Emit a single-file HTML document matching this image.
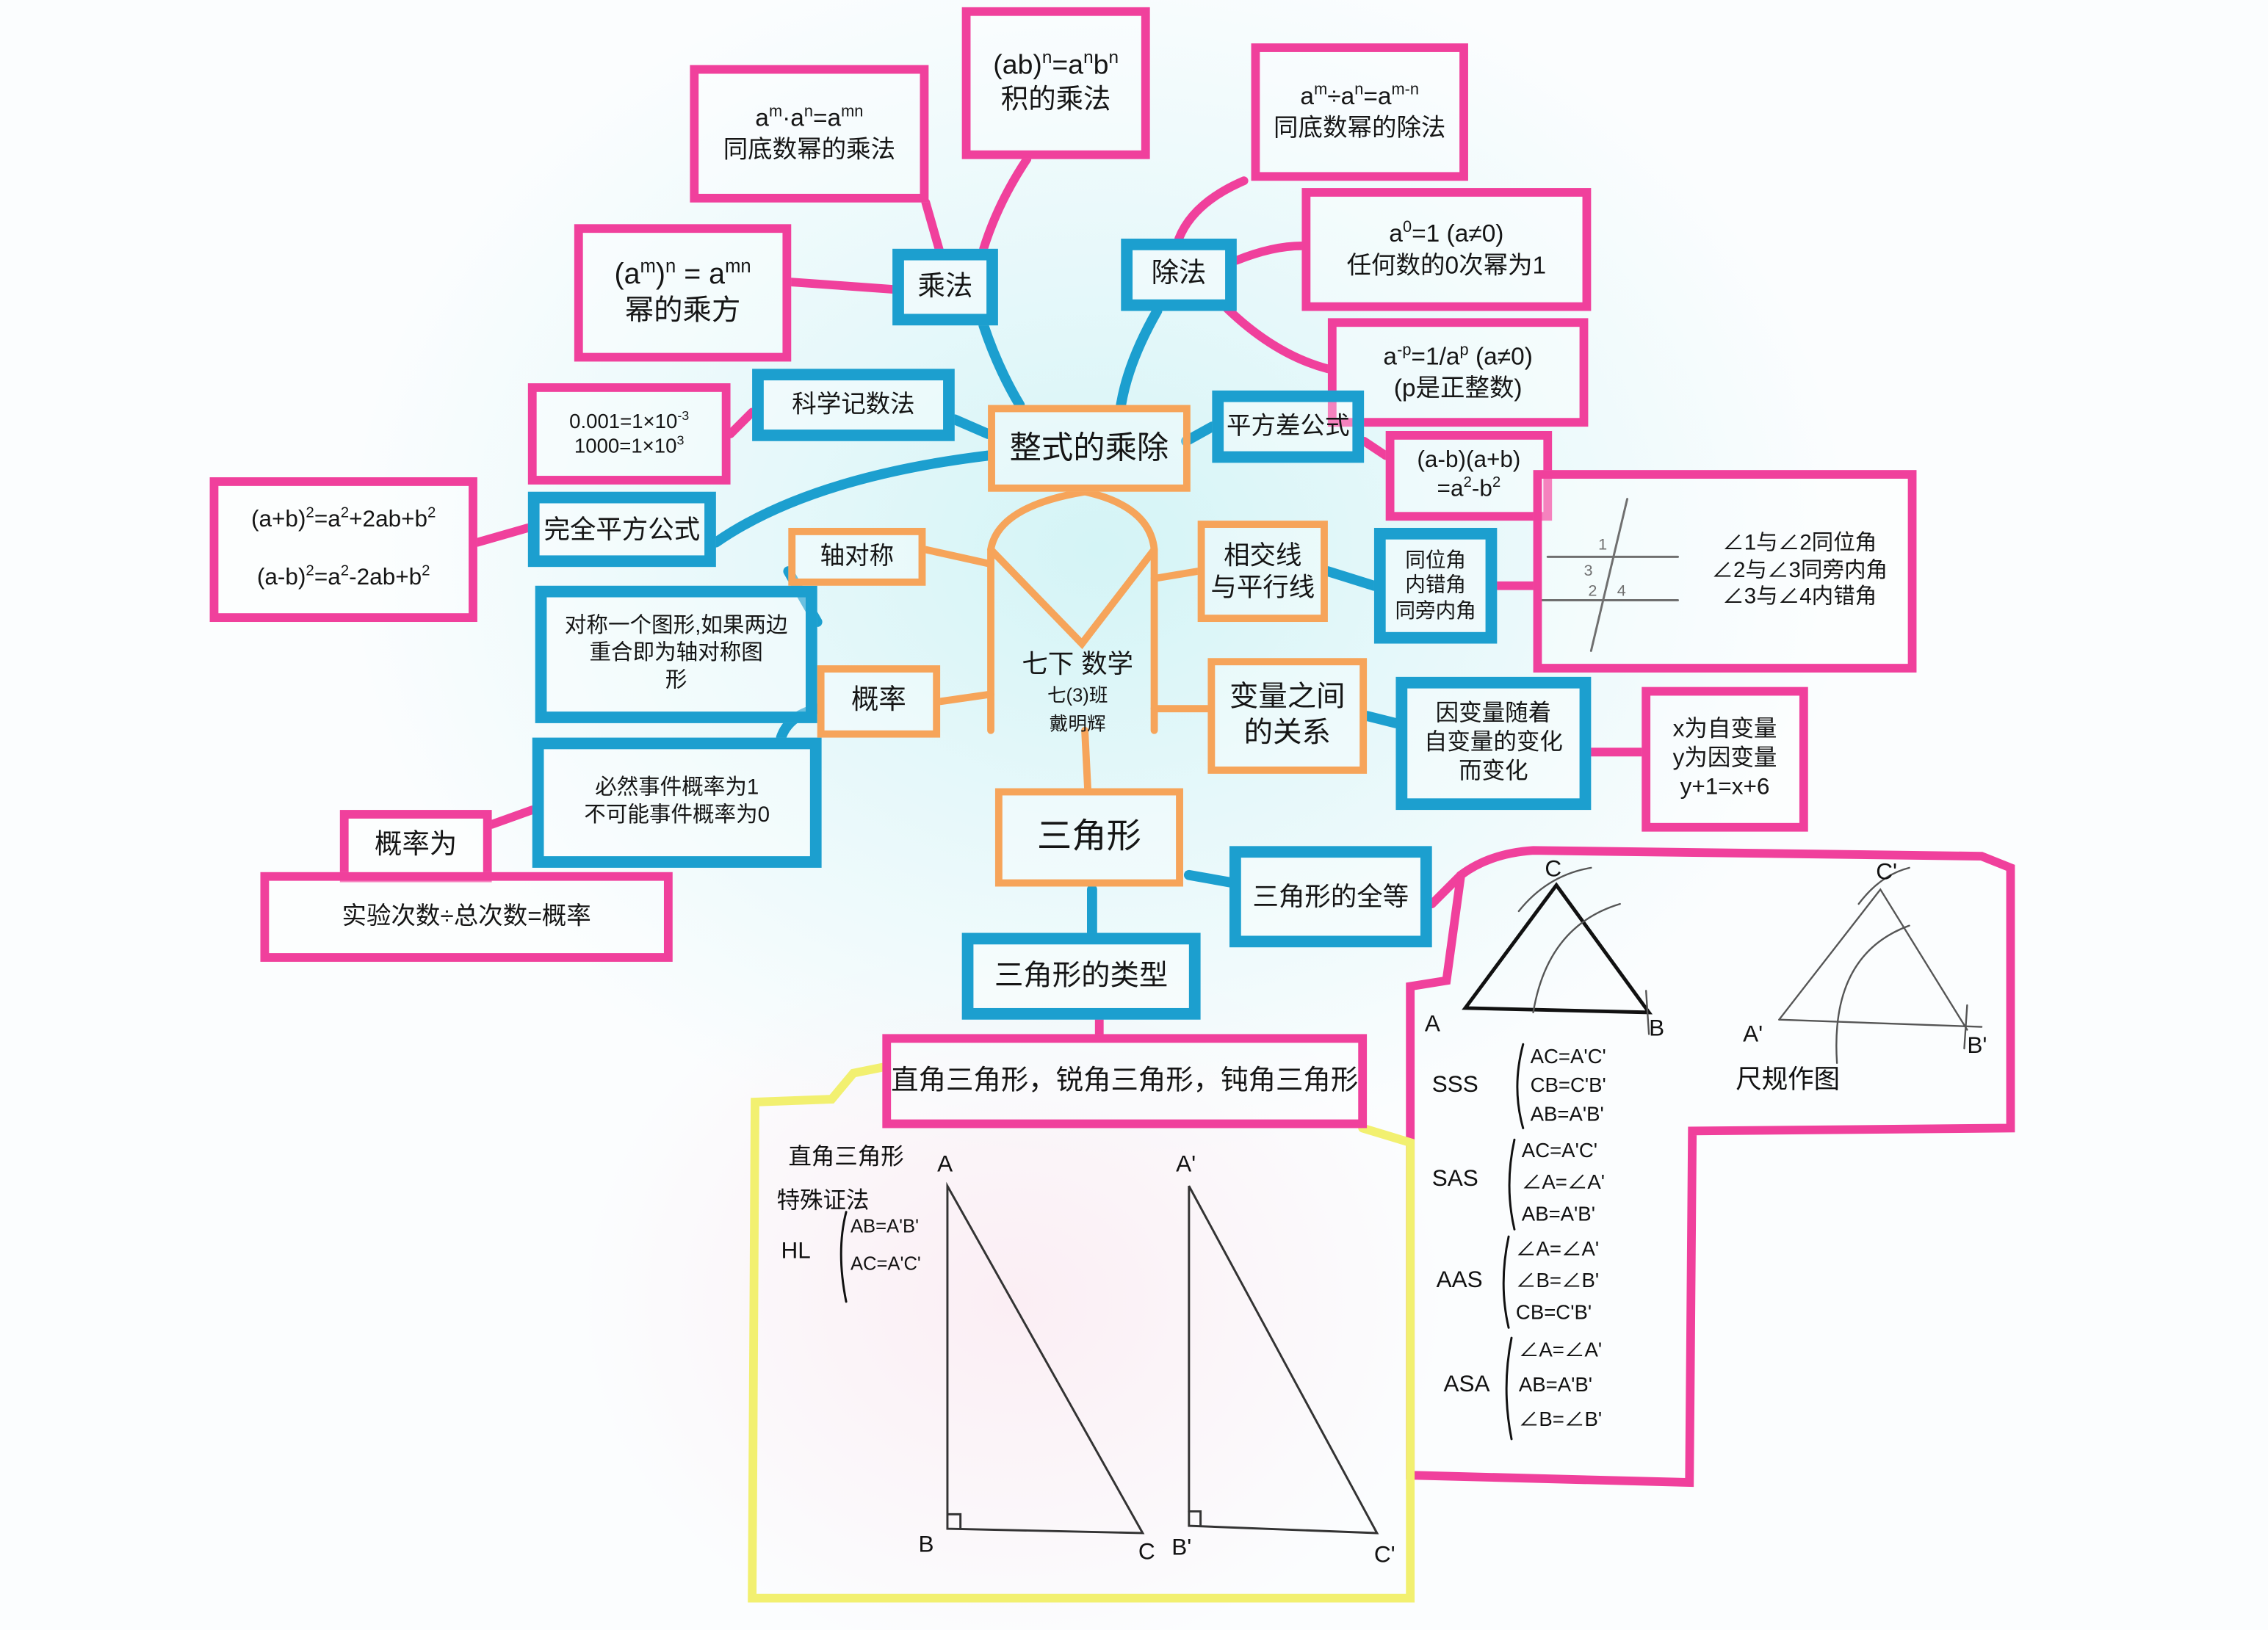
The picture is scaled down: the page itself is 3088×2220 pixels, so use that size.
<!DOCTYPE html>
<html><head><meta charset="utf-8"><style>
html,body{margin:0;padding:0;width:3088px;height:2220px;overflow:hidden;background:#fbfdff}
#s{position:absolute;left:0;top:0;width:1568px;height:1127px;transform:scale(1.9694,1.9698);transform-origin:0 0;
background:radial-gradient(ellipse 520px 420px at 760px 380px,#d4f4f6 0%,#e6f8fa 45%,rgba(250,253,255,0) 100%),radial-gradient(ellipse 300px 250px at 700px 900px,#fbeef4 0%,rgba(255,255,255,0) 100%),#fbfdfe;
font-family:"Liberation Sans","Noto Sans CJK SC",sans-serif;color:#151515}
.b{position:absolute;box-sizing:border-box;display:flex;align-items:center;justify-content:center;text-align:center;line-height:1.25;background:rgba(255,255,255,.35)}
.b>div{display:block}
sup{font-size:65%;line-height:0}
.p{border:6px solid #f0409c}
.u{border:8px solid #1c9fcf}
.o{border:5px solid #f6a45a}
svg{position:absolute;left:0;top:0}
</style></head><body><div id="s">
<svg width="1568" height="1127" viewBox="0 0 1568 1127" fill="none" stroke-linecap="round">
<g stroke="#f0409c" stroke-width="6">
<path d="M640,140 L650,175"/><path d="M710,110 Q690,140 680,172"/>
<path d="M860,125 Q825,140 815,165"/><path d="M855,180 Q880,170 900,170"/>
<path d="M845,210 Q880,245 918,255"/><path d="M547,195 L617,200"/>
<path d="M505,300 L520,285"/><path d="M330,375 L365,365"/>
<path d="M943,305 L958,315"/><path d="M1035,405 L1060,405"/>
<path d="M1100,520 L1135,520"/><path d="M340,570 L368,560"/>
<path d="M990,625 L1010,605"/><path d="M760,705 L760,715"/>
</g>
<g stroke="#1c9fcf" stroke-width="7">
<path d="M680,225 Q690,255 705,280"/><path d="M800,215 Q780,250 775,280"/>
<path d="M660,290 L683,300"/><path d="M820,305 L838,295"/>
<path d="M495,375 Q560,330 683,315"/><path d="M565,430 L545,395"/>
<path d="M918,395 L950,405"/><path d="M945,495 L965,500"/>
<path d="M565,490 Q545,495 540,510"/><path d="M822,605 L850,610"/>
<path d="M755,615 L755,645"/>
</g>
<g stroke="#f6a45a" stroke-width="5">
<path d="M750,340 Q690,350 685,380 L685,505"/><path d="M750,340 Q795,350 798,380 L798,505"/>
<path d="M685,380 L748,445 L798,380"/>
<path d="M640,380 L685,390"/><path d="M650,485 L685,480"/>
<path d="M798,400 L828,395"/><path d="M798,490 L835,490"/>
<path d="M750,505 L752,545"/>
</g>
<path d="M1010,605 Q1030,590 1060,588 L1370,592 L1390,600 L1390,780 L1170,782 L1168,1025 L975,1020 L975,682 L1000,678 Z" stroke="#f0409c" stroke-width="6"/>
<path d="M610,738 L590,742 L575,760 L522,762 L520,1105 L975,1105 L975,790 L942,780" stroke="#f2f070" stroke-width="6"/>
<g stroke="#222" stroke-width="1.5">
<path d="M1070,385 L1160,385"/><path d="M1065,415 L1160,415"/><path d="M1125,345 L1100,450"/>
</g>
<g font-size="11" fill="#222" stroke="none"><text x="1105" y="380">1</text><text x="1095" y="398">3</text><text x="1098" y="412">2</text><text x="1118" y="412">4</text></g>
<g stroke="#111" stroke-width="2.5"><path d="M1013,697 L1076,612 L1140,700 Z"/></g>
<g stroke="#555" stroke-width="1.2">
<path d="M1230,705 L1300,615 L1360,712"/><path d="M1230,705 L1370,710"/>
<path d="M1060,700 Q1070,640 1120,625"/><path d="M1050,630 Q1070,605 1100,600"/>
<path d="M1270,735 Q1265,660 1320,640"/><path d="M1285,625 Q1300,605 1320,600"/>
<path d="M1138,685 L1140,715"/><path d="M1360,695 L1358,725"/>
</g>
<g stroke="#333" stroke-width="1.5">
<path d="M655,820 L655,1057 L790,1060 Z"/><path d="M822,820 L822,1055 L952,1060 Z"/>
<path d="M655,1047 L664,1047 L664,1057"/><path d="M822,1045 L830,1045 L830,1055"/>
</g>
<g font-size="16" fill="#111" stroke="none">
<text x="1068" y="606">C</text><text x="985" y="713">A</text><text x="1140" y="716">B</text>
<text x="1297" y="608">C'</text><text x="1205" y="720">A'</text><text x="1360" y="728">B'</text>
<text x="648" y="810">A</text><text x="635" y="1073">B</text><text x="787" y="1078">C</text>
<text x="813" y="810">A'</text><text x="810" y="1075">B'</text><text x="950" y="1080">C'</text>
</g>
<g font-size="16" fill="#111" stroke="none" font-family="Liberation Sans,Noto Sans CJK SC,sans-serif">
<text x="990" y="755">SSS</text><text x="1058" y="735" font-size="14">AC=A'C'</text><text x="1058" y="755" font-size="14">CB=C'B'</text><text x="1058" y="775" font-size="14">AB=A'B'</text>
<text x="990" y="820">SAS</text><text x="1052" y="800" font-size="14">AC=A'C'</text><text x="1052" y="822" font-size="14">∠A=∠A'</text><text x="1052" y="844" font-size="14">AB=A'B'</text>
<text x="993" y="890">AAS</text><text x="1048" y="868" font-size="14">∠A=∠A'</text><text x="1048" y="890" font-size="14">∠B=∠B'</text><text x="1048" y="912" font-size="14">CB=C'B'</text>
<text x="998" y="962">ASA</text><text x="1050" y="938" font-size="14">∠A=∠A'</text><text x="1050" y="962" font-size="14">AB=A'B'</text><text x="1050" y="986" font-size="14">∠B=∠B'</text>
<text x="1200" y="752" font-size="18">尺规作图</text>
<text x="545" y="805" font-size="16">直角三角形</text><text x="537" y="835" font-size="16">特殊证法</text>
<text x="540" y="870">HL</text><text x="588" y="852" font-size="13">AB=A'B'</text><text x="588" y="878" font-size="13">AC=A'C'</text>
</g>
<g stroke="#111" stroke-width="1.5"><path d="M1053,722 Q1045,752 1053,780"/><path d="M1047,788 Q1040,820 1047,850"/><path d="M1043,855 Q1036,888 1043,918"/><path d="M1045,925 Q1038,960 1045,995"/><path d="M585,838 Q578,865 585,900"/></g>
</svg>

<div class="b p" style="left:477px;top:45px;width:165px;height:95px;font-size:17px"><div>a<sup>m</sup>·a<sup>n</sup>=a<sup>mn</sup><br>同底数幂的乘法</div></div>
<div class="b p" style="left:665px;top:5px;width:130px;height:105px;font-size:19px"><div>(ab)<sup>n</sup>=a<sup>n</sup>b<sup>n</sup><br>积的乘法</div></div>
<div class="b p" style="left:865px;top:30px;width:150px;height:95px;font-size:17px"><div>a<sup>m</sup>÷a<sup>n</sup>=a<sup>m-n</sup><br>同底数幂的除法</div></div>
<div class="b p" style="left:900px;top:130px;width:200px;height:85px;font-size:17px"><div>a<sup>0</sup>=1 (a≠0)<br>任何数的0次幂为1</div></div>
<div class="b p" style="left:918px;top:220px;width:180px;height:75px;font-size:17px"><div>a<sup>-p</sup>=1/a<sup>p</sup> (a≠0)<br>(p是正整数)</div></div>
<div class="b p" style="left:397px;top:155px;width:150px;height:95px;font-size:20px"><div>(a<sup>m</sup>)<sup>n</sup> = a<sup>mn</sup><br>幂的乘方</div></div>
<div class="b p" style="left:365px;top:265px;width:140px;height:70px;font-size:14px"><div>0.001=1×10<sup>-3</sup><br>1000=1×10<sup>3</sup></div></div>
<div class="b p" style="left:145px;top:330px;width:185px;height:100px;font-size:16px"><div>(a+b)<sup>2</sup>=a<sup>2</sup>+2ab+b<sup>2</sup><br><br>(a-b)<sup>2</sup>=a<sup>2</sup>-2ab+b<sup>2</sup></div></div>
<div class="b p" style="left:958px;top:298px;width:115px;height:62px;font-size:16px"><div>(a-b)(a+b)<br>=a<sup>2</sup>-b<sup>2</sup></div></div>
<div class="b p" style="left:1060px;top:325px;width:265px;height:140px;font-size:15px;justify-content:flex-end;padding-right:14px"><div>∠1与∠2同位角<br>∠2与∠3同旁内角<br>∠3与∠4内错角</div></div>
<div class="b p" style="left:1135px;top:475px;width:115px;height:100px;font-size:16px"><div>x为自变量<br>y为因变量<br>y+1=x+6</div></div>
<div class="b p" style="left:235px;top:560px;width:105px;height:50px;font-size:19px"><div>概率为</div></div>
<div class="b p" style="left:180px;top:603px;width:285px;height:62px;font-size:17px"><div>实验次数÷总次数=概率</div></div>
<div class="b p" style="left:610px;top:715px;width:335px;height:65px;font-size:19px"><div>直角三角形，锐角三角形，钝角三角形</div></div>

<div class="b u" style="left:617px;top:172px;width:73px;height:53px;font-size:19px"><div>乘法</div></div>
<div class="b u" style="left:775px;top:165px;width:80px;height:50px;font-size:19px"><div>除法</div></div>
<div class="b u" style="left:520px;top:255px;width:140px;height:50px;font-size:17px"><div>科学记数法</div></div>
<div class="b u" style="left:838px;top:270px;width:105px;height:50px;font-size:17px"><div>平方差公式</div></div>
<div class="b u" style="left:365px;top:340px;width:130px;height:52px;font-size:18px"><div>完全平方公式</div></div>
<div class="b u" style="left:370px;top:405px;width:195px;height:95px;font-size:15px"><div>对称一个图形,如果两边<br>重合即为轴对称图<br>形</div></div>
<div class="b u" style="left:950px;top:365px;width:85px;height:80px;font-size:14px"><div>同位角<br>内错角<br>同旁内角</div></div>
<div class="b u" style="left:965px;top:468px;width:135px;height:92px;font-size:16px"><div>因变量随着<br>自变量的变化<br>而变化</div></div>
<div class="b u" style="left:368px;top:510px;width:200px;height:90px;font-size:15px"><div>必然事件概率为1<br>不可能事件概率为0</div></div>
<div class="b u" style="left:850px;top:585px;width:140px;height:70px;font-size:18px"><div>三角形的全等</div></div>
<div class="b u" style="left:665px;top:645px;width:165px;height:60px;font-size:20px"><div>三角形的类型</div></div>

<div class="b o" style="left:683px;top:280px;width:140px;height:60px;font-size:22px"><div>整式的乘除</div></div>
<div class="b o" style="left:545px;top:365px;width:95px;height:40px;font-size:17px"><div>轴对称</div></div>
<div class="b o" style="left:565px;top:460px;width:85px;height:50px;font-size:19px"><div>概率</div></div>
<div class="b o" style="left:828px;top:360px;width:90px;height:70px;font-size:18px"><div>相交线<br>与平行线</div></div>
<div class="b o" style="left:835px;top:455px;width:110px;height:80px;font-size:20px"><div>变量之间<br>的关系</div></div>
<div class="b o" style="left:688px;top:545px;width:130px;height:68px;font-size:24px"><div>三角形</div></div>
<div style="position:absolute;left:690px;top:450px;width:110px;font-size:18px;line-height:1.1;text-align:center">七下 数学<br><span style="font-size:13px">七(3)班<br>戴明辉</span></div>
</div></body></html>
